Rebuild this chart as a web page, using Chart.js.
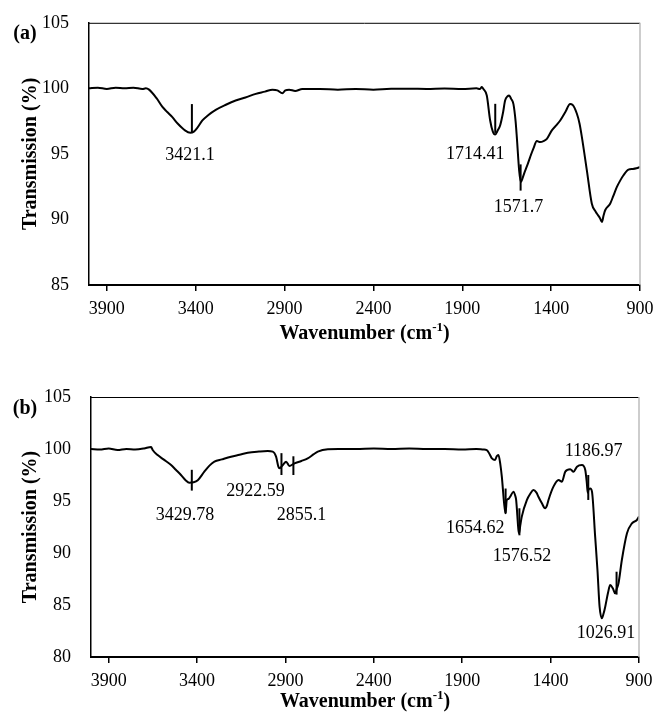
<!DOCTYPE html>
<html>
<head>
<meta charset="utf-8">
<script src="https://cdn.jsdelivr.net/npm/chart.js@4.4.1/dist/chart.umd.min.js"></script>
<style>
  html, body { margin: 0; padding: 0; background: #fff; }
  .wrap { position: relative; width: 655px; height: 718px; }
  .panel { position: absolute; left: 0; width: 655px; height: 359px; }
</style>
</head>
<body>
<div class="wrap">
  <div class="panel" style="top:0"><canvas id="specA"></canvas></div>
  <div class="panel" style="top:359px"><canvas id="specB"></canvas></div>
</div>
<script>
const xTicks = [3900, 3400, 2900, 2400, 1900, 1400, 900];

// spectrum (a)
const waveA = [4000, 3950, 3900, 3850, 3800, 3750, 3700, 3680, 3662, 3620, 3588, 3560, 3531, 3500, 3460, 3430,
  3410, 3390, 3362, 3330, 3287, 3230, 3175, 3120, 3062, 3010, 2968, 2940, 2912, 2895, 2874, 2840, 2800,
  2700, 2600, 2500, 2400, 2300, 2200, 2100, 2000, 1900, 1820, 1800, 1790, 1781, 1762, 1743, 1728, 1715,
  1700, 1687, 1670, 1659, 1645, 1636, 1625, 1612, 1600, 1593, 1580, 1570, 1562, 1552, 1535, 1518, 1500,
  1480, 1462, 1440, 1424, 1396, 1370, 1349, 1320, 1293, 1280, 1255, 1240, 1227, 1199, 1171, 1150, 1143,
  1125, 1114, 1105, 1096, 1068, 1050, 1030, 1010, 993, 965, 940, 920, 900];
const transA = [100.0, 100.05, 99.95, 100.05, 100.0, 100.05, 99.95, 100.0, 99.9, 99.25, 98.6, 98.2, 97.8, 97.3, 96.8, 96.62,
  96.7, 97.0, 97.55, 97.95, 98.36, 98.75, 99.07, 99.3, 99.58, 99.75, 99.9, 99.85, 99.62, 99.85, 99.9, 99.8, 99.95,
  99.95, 99.9, 99.95, 99.9, 99.97, 99.97, 99.95, 99.98, 99.95, 100.0, 99.95, 100.1, 99.95, 99.45, 97.55, 96.7, 96.48,
  96.8, 97.17, 98.2, 99.07, 99.4, 99.45, 99.2, 98.8, 97.5, 96.28, 93.75, 92.86, 93.1, 93.5, 94.1, 94.76, 95.4,
  95.98, 95.9, 96.0, 96.15, 96.79, 97.2, 97.55, 98.2, 98.8, 98.75, 98.06, 97.3, 96.28, 93.75, 91.2, 90.6, 90.45,
  90.1, 89.81, 90.3, 90.7, 91.2, 91.8, 92.48, 93.0, 93.37, 93.8, 93.85, 93.9, 94.0];

// spectrum (b)
const waveB = [4000, 3950, 3900, 3850, 3800, 3750, 3700, 3660, 3651, 3623, 3590, 3547, 3520, 3491, 3465, 3444,
  3420, 3396, 3359, 3330, 3302, 3260, 3208, 3160, 3113, 3050, 3000, 2972, 2953, 2940, 2934, 2915, 2896,
  2878, 2849, 2810, 2774, 2740, 2717, 2660, 2600, 2500, 2400, 2300, 2200, 2100, 2000, 1900, 1820, 1780,
  1761, 1745, 1732, 1714, 1705, 1695, 1685, 1676, 1663, 1655, 1648, 1638, 1629, 1610, 1600, 1595, 1582,
  1578, 1572, 1563, 1534, 1515, 1497, 1480, 1469, 1450, 1431, 1420, 1412, 1384, 1355, 1336, 1317, 1289,
  1270, 1251, 1223, 1204, 1195, 1190, 1186, 1176, 1166, 1148, 1135, 1123, 1110, 1100, 1091, 1075, 1063,
  1048, 1035, 1025, 1016, 997, 968, 940, 912, 900];
const transB = [100.0, 99.95, 100.05, 99.9, 100.0, 99.95, 100.05, 100.2, 99.9, 99.42, 99.0, 98.46, 98.0, 97.5, 97.0, 96.76,
  96.8, 97.0, 97.82, 98.4, 98.78, 99.0, 99.26, 99.45, 99.64, 99.75, 99.8, 99.75, 99.26, 98.3, 98.14, 98.46, 98.78,
  98.37, 98.62, 98.85, 99.1, 99.5, 99.74, 99.97, 100.0, 100.0, 100.05, 100.0, 100.05, 100.0, 100.0, 99.95, 100.0, 99.95,
  99.9, 99.5, 99.1, 98.94, 99.3, 99.42, 98.6, 97.34, 94.78, 93.82, 95.1, 95.2, 95.41, 95.9, 95.5, 95.1, 92.2,
  91.9, 92.6, 93.5, 95.1, 95.7, 96.06, 95.8, 95.41, 94.8, 94.3, 94.6, 95.1, 96.38, 97.02, 96.86, 97.82, 98.05,
  97.82, 98.3, 98.46, 97.98, 96.7, 95.8, 96.06, 96.2, 95.9, 91.57, 88.37, 84.84, 83.72, 84.2, 84.84, 86.2, 86.92,
  86.6, 86.12, 86.6, 87.08, 89.33, 91.9, 92.85, 93.17, 93.5];

// peak markers: wavenumber, top and bottom of the tick in %T
const peaksA = [3421.1, 1714.41, 1571.7];
const peakTopA = [98.8, 98.82, 94.2];
const peakBotA = [96.66, 96.6, 92.2];
const peaksB = [3429.78, 2922.59, 2855.1, 1654.62, 1576.52, 1186.97, 1026.91];
const peakTopB = [98.0, 99.6, 99.3, 96.2, 94.3, 97.5, 88.2];
const peakBotB = [96.0, 97.5, 97.5, 93.8, 91.7, 95.1, 86.0];

// peak labels, anchored in data units
const labelTextA = ['3421.1', '1714.41', '1571.7'];
const labelWaveA = [3432, 1827, 1584];
const labelTransA = [94.9, 95.0, 90.9];
const labelTextB = ['3429.78', '2922.59', '2855.1', '1654.62', '1576.52', '1186.97', '1026.91'];
const labelWaveB = [3468, 3069, 2809, 1827, 1562, 1157, 1087];
const labelTransB = [93.65, 95.9, 93.65, 92.37, 89.64, 99.74, 82.27];

const SERIF = '"Liberation Serif", "Times New Roman", serif';

const toPoints = (xs, ys) => xs.map((x, i) => ({ x, y: ys[i] }));

const decorPlugin = {
  id: 'decor',
  afterDatasetsDraw(chart, args, opts) {
    const { ctx, chartArea: a } = chart;
    const xs = chart.scales.x, ys = chart.scales.y;
    ctx.save();

    // top and right frame
    ctx.strokeStyle = '#000';
    ctx.lineWidth = 1;
    ctx.beginPath();
    ctx.moveTo(a.left, a.top + 0.5);
    ctx.lineTo(a.right, a.top + 0.5);
    ctx.stroke();
    ctx.strokeStyle = '#bdbdbd';
    ctx.lineWidth = 1.5;
    ctx.beginPath();
    ctx.moveTo(a.right, a.top);
    ctx.lineTo(a.right, a.bottom);
    ctx.stroke();

    // peak ticks
    ctx.strokeStyle = '#000';
    ctx.lineWidth = 2;
    opts.peaks.forEach((p, i) => {
      const px = xs.getPixelForValue(p);
      ctx.beginPath();
      ctx.moveTo(px, ys.getPixelForValue(opts.peakTop[i]));
      ctx.lineTo(px, ys.getPixelForValue(opts.peakBot[i]));
      ctx.stroke();
    });

    // peak labels
    ctx.fillStyle = '#000';
    ctx.font = '18px ' + SERIF;
    ctx.textAlign = 'center';
    ctx.textBaseline = 'middle';
    opts.labels.forEach((t, i) => {
      ctx.fillText(t, xs.getPixelForValue(opts.labelX[i]), ys.getPixelForValue(opts.labelY[i]));
    });

    // panel tag
    ctx.font = 'bold 20px ' + SERIF;
    ctx.fillText(opts.tag, 25, a.top + opts.tagDy);

    // y title
    ctx.save();
    ctx.translate(31, (a.top + a.bottom) / 2);
    ctx.rotate(-Math.PI / 2);
    ctx.font = 'bold 20px ' + SERIF;
    ctx.fillText('Transmission (%)', 0, 0);
    ctx.restore();

    // x title with superscript
    const main = 'Wavenumber (cm';
    const sup = '-1';
    const tail = ')';
    ctx.font = 'bold 20px ' + SERIF;
    const wMain = ctx.measureText(main).width;
    const wTail = ctx.measureText(tail).width;
    ctx.font = 'bold 13px ' + SERIF;
    const wSup = ctx.measureText(sup).width;
    const total = wMain + wSup + wTail;
    let x0 = (a.left + a.right) / 2 - total / 2;
    const ty = a.bottom + opts.titleGap;
    ctx.textAlign = 'left';
    ctx.font = 'bold 20px ' + SERIF;
    ctx.fillText(main, x0, ty);
    ctx.font = 'bold 13px ' + SERIF;
    ctx.fillText(sup, x0 + wMain, ty - 6);
    ctx.font = 'bold 20px ' + SERIF;
    ctx.fillText(tail, x0 + wMain + wSup, ty);
    ctx.restore();
  }
};

function makeChart(id, cfg) {
  return new Chart(document.getElementById(id), {
    type: 'line',
    data: {
      datasets: [{
        data: toPoints(cfg.wave, cfg.trans),
        borderColor: '#000',
        borderWidth: 2,
        pointRadius: 0,
        fill: false,
        cubicInterpolationMode: 'monotone'
      }]
    },
    options: {
      responsive: false,
      animation: false,
      events: [],
      layout: { autoPadding: false, padding: { left: 0, right: cfg.padRight, top: cfg.padTop, bottom: 0 } },
      scales: {
        x: {
          type: 'linear',
          reverse: true,
          min: 900,
          max: 4000,
          afterBuildTicks: (s) => { s.ticks = xTicks.map(v => ({ value: v })); },
          afterFit: (s) => {
            s.height = cfg.xHeight;
            // edge labels may hang past the plot; keep the plot width fixed
            s.paddingLeft = 0;
            s.paddingRight = 0;
          },
          grid: { drawOnChartArea: false, drawTicks: true, tickLength: 6, color: '#000', lineWidth: 1.5 },
          border: { display: true, color: '#000', width: 2 },
          ticks: {
            color: '#000', font: { family: SERIF, size: 18 }, padding: 7, maxRotation: 0, autoSkip: false,
            callback: (v) => String(v)
          }
        },
        y: {
          min: cfg.yMin,
          max: 105,
          afterFit: (s) => { s.width = cfg.yWidth; },
          grid: { display: false },
          border: { display: true, color: '#000', width: 1.5 },
          ticks: { stepSize: 5, color: '#000', font: { family: SERIF, size: 18 }, padding: 12 }
        }
      },
      plugins: {
        legend: { display: false },
        tooltip: { enabled: false },
        decor: {
          peaks: cfg.peaks, peakTop: cfg.peakTop, peakBot: cfg.peakBot,
          labels: cfg.labels, labelX: cfg.labelX, labelY: cfg.labelY,
          tag: cfg.tag, tagDy: cfg.tagDy, titleGap: cfg.titleGap
        }
      }
    },
    plugins: [decorPlugin]
  });
}

['specA', 'specB'].forEach(id => {
  const c = document.getElementById(id);
  c.width = 655; c.height = 359;
});

makeChart('specA', {
  wave: waveA, trans: transA, yMin: 85,
  padRight: 15, padTop: 22, xHeight: 74, yWidth: 89,
  peaks: peaksA, peakTop: peakTopA, peakBot: peakBotA,
  labels: labelTextA, labelX: labelWaveA, labelY: labelTransA,
  tag: '(a)', tagDy: 11, titleGap: 49
});

makeChart('specB', {
  wave: waveB, trans: transB, yMin: 80,
  padRight: 16, padTop: 38, xHeight: 61, yWidth: 91,
  peaks: peaksB, peakTop: peakTopB, peakBot: peakBotB,
  labels: labelTextB, labelX: labelWaveB, labelY: labelTransB,
  tag: '(b)', tagDy: 12, titleGap: 45
});
</script>
</body>
</html>
